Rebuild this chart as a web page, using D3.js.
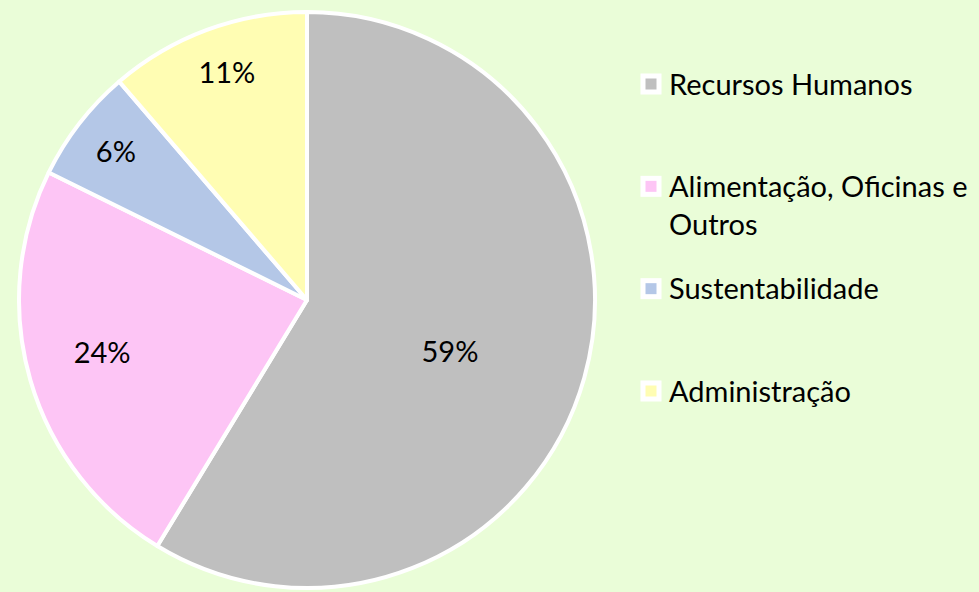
<!DOCTYPE html>
<html>
<head>
<meta charset="utf-8">
<script src="https://cdn.jsdelivr.net/npm/d3@7"></script>
<style>
  html, body { margin: 0; padding: 0; background: #EAFDD8; }
  svg { display: block; }
  text { font-family: "Lato", "Open Sans", sans-serif; fill: #000; }
</style>
</head>
<body>
<svg id="chart" width="979" height="592"></svg>
<script>
// Budget share by area
const categories = ["Recursos Humanos", "Alimentação, Oficinas e Outros", "Sustentabilidade", "Administração"];
const values = [58.7, 23.6, 6.4, 11.3];
const colors = ["#BFBFBF", "#FDC5F5", "#B4C7E7", "#FFFDB3"];
// legend text split the way it wraps in the original
const legendLines = [["Recursos Humanos"], ["Alimentação, Oficinas e", "Outros"], ["Sustentabilidade"], ["Administração"]];

const svg = d3.select("#chart");
const cx = 307, cy = 300, radius = 288;
const fontSize = 29;

const pie = d3.pie().sort(null).value(d => d);
const arcs = pie(values);
const arc = d3.arc().innerRadius(0).outerRadius(radius);

const g = svg.append("g").attr("transform", `translate(${cx},${cy})`);

g.selectAll("path")
    .data(arcs)
    .join("path")
    .attr("d", arc)
    .attr("fill", (d, i) => colors[i])
    .attr("stroke", "#fff")
    .attr("stroke-width", 4)
    .attr("stroke-linejoin", "round");

// "best fit" labels: small slices pushed outward like Excel does
const labelFrac = [0.527, 0.735, 0.84, 0.836];
const labelNudge = [4, 1.7, 0, 0.9]; // degrees, clockwise
g.selectAll("text.pct")
    .data(arcs)
    .join("text")
    .attr("class", "pct")
    .attr("text-anchor", "middle")
    .attr("dy", "0.36em")
    .style("font-size", fontSize + "px")
    .attr("transform", (d, i) => {
        const r = radius * labelFrac[i];
        const a = (d.startAngle + d.endAngle) / 2 + labelNudge[i] * Math.PI / 180;
        return `translate(${Math.sin(a) * r},${-Math.cos(a) * r})`;
    })
    .text(d => Math.round(d.data) + "%");

// Legend
const legendY = d3.scalePoint().domain(categories).range([84, 391]);
const legend = svg.append("g");
const item = legend.selectAll("g")
    .data(categories)
    .join("g")
    .attr("transform", d => `translate(651,${legendY(d)})`);

item.append("rect")
    .attr("x", -8).attr("y", -8)
    .attr("width", 16).attr("height", 16)
    .attr("fill", (d, i) => colors[i])
    .attr("stroke", "#fff")
    .attr("stroke-width", 5);

item.append("text")
    .attr("x", 18)
    .attr("y", 10.5)
    .style("font-size", fontSize + "px")
    .selectAll("tspan")
    .data((d, i) => legendLines[i])
    .join("tspan")
    .attr("x", 18)
    .attr("dy", (d, j) => j === 0 ? 0 : 38)
    .text(d => d);
</script>
</body>
</html>
